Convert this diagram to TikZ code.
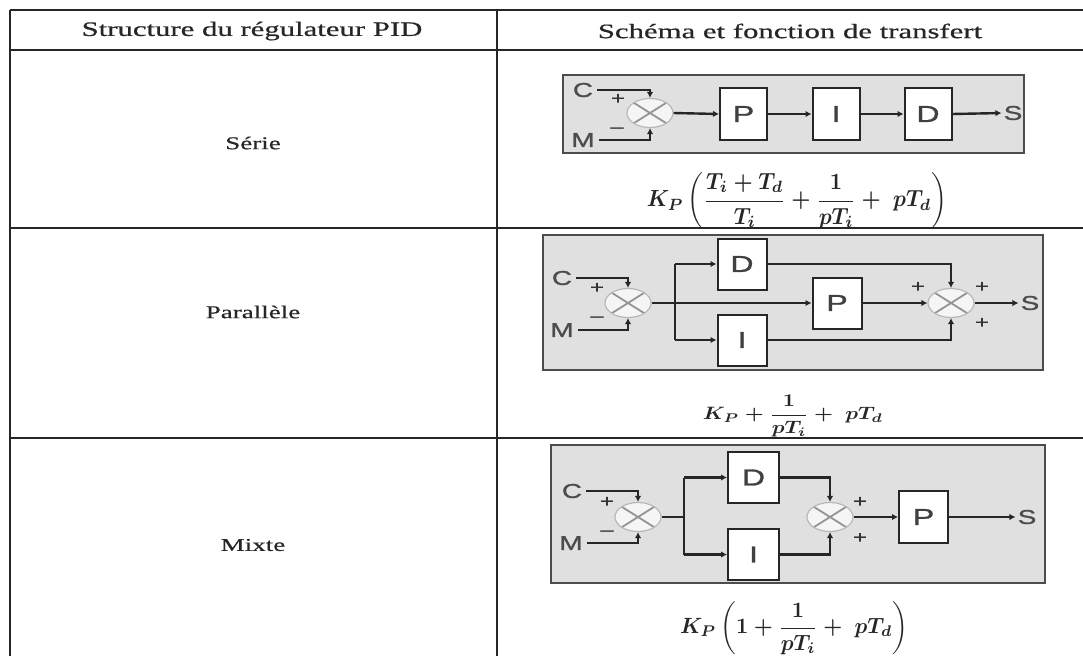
\documentclass[tikz,border=0pt]{standalone}
\usepackage{amsmath}
\usepackage{graphicx}
\usepackage{fontspec}
\setmainfont[FakeStretch=1.5,FakeBold=0.6]{Liberation Serif}
\setsansfont[FakeStretch=1.4,FakeBold=1.2]{Liberation Sans}
\usetikzlibrary{arrows.meta,shapes.geometric}
\tikzset{
 tbl/.style={line width=2.4pt, draw=black!85},
 panel/.style={fill=black!12, draw=black!70, line width=2pt},
 blk/.style={draw=black!85, fill=white, line width=2pt, inner sep=0pt, minimum width=49pt, minimum height=51pt, font=\sffamily\fontsize{23}{23}\selectfont, text=black!75},
 sumj/.style={ellipse, minimum width=46pt, minimum height=29pt, inner sep=0pt, fill=white!96!black, draw=black!28, line width=1.2pt,
   path picture={\draw[black!42,line width=1.8pt] (path picture bounding box.north west) -- (path picture bounding box.south east) (path picture bounding box.north east) -- (path picture bounding box.south west);}},
 wire/.style={line width=2.4pt, draw=black!85},
 arr/.style={wire, -{Latex[length=6pt,width=6.5pt]}},
 io/.style={font=\sffamily\fontsize{20}{20}\selectfont, text=black!70, inner sep=0pt},
 sgn/.style={font=\sffamily\fontsize{17}{17}\selectfont, text=black!80, inner sep=0pt},
 lab/.style={font=\fontsize{18}{18}\selectfont, text=black!85, inner sep=0pt},
 hdr/.style={font=\fontsize{20.5}{21}\selectfont, text=black!85, inner sep=0pt},
 frm/.style={inner sep=0pt, text=black!85},
}
\begin{document}
\begin{tikzpicture}[x=1pt,y=-1pt]
\useasboundingbox (0,0) rectangle (1083,656);
% table
\draw[tbl] (10,10) -- (1083,10);
\draw[tbl] (10,50) -- (1083,50);
\draw[tbl] (10,228) -- (1083,228);
\draw[tbl] (10,438) -- (1083,438);
\draw[tbl] (10,10) -- (10,656);
\draw[tbl] (497,10) -- (497,656);
\node[hdr] (h1) at (252,31) {Structure du régulateur PID};
\node[hdr] (h2) at (790,31) {Schéma et fonction de transfert};
\node[lab] (l1) at (253,143) {Série};
\node[lab] (l2) at (253,312) {Parallèle};
\node[lab] (l3) at (253,545) {Mixte};
% ---------- Serie
\draw[panel] (563,75) rectangle (1024,153);
\node[io] (c1) at (583,90) {C};
\node[io] (m1) at (583,140) {M};
\node[sumj] (s1) at (650,113) {};
\node[sgn] (pl1) at (618,99) {+};
\node[sgn] (mi1) at (617,130) {–};
\node[blk, minimum width=47pt, minimum height=52pt] (p1) at (743.5,114) {P};
\node[blk, minimum width=47pt, minimum height=52pt] (i1) at (836,114) {I};
\node[blk, minimum width=47pt, minimum height=52pt] (d1) at (928,114) {D};
\node[io] (o1) at (1013,113) {S};
\draw[arr] ([xshift=4pt]c1.east) -| (s1.north);
\draw[arr] ([xshift=4pt]m1.east) -| (s1.south);
\draw[arr] (s1.east) -- (p1.west);
\draw[arr] (p1.east) -- (i1.west);
\draw[arr] (i1.east) -- (d1.west);
\draw[arr, shorten >=2pt] (d1.east) -- (o1.west);
\node[frm] (f1) at (797,201) {\resizebox*{300pt}{56pt}{\boldmath$\displaystyle K_{P}\left(\frac{T_i+T_d}{T_i}+\frac{1}{pT_i}+\;pT_d\right)$}};
% ---------- Parallele
\draw[panel] (543,235) rectangle (1043,370);
\node[io] (c2) at (562,278) {C};
\node[io] (m2) at (562,330) {M};
\node[sumj] (s2a) at (628,303) {};
\node[sgn] (pl2) at (597,288) {+};
\node[sgn] (mi2) at (597,319) {–};
\coordinate (j2) at (675,303);
\node[blk] (d2) at (742,264) {D};
\node[blk] (i2) at (742,340) {I};
\node[blk] (p2) at (837,303) {P};
\node[sumj] (s2b) at (951,303) {};
\node[sgn] (pa2) at (918,287) {+};
\node[sgn] (pb2) at (982,287) {+};
\node[sgn] (pc2) at (982,323) {+};
\node[io] (o2) at (1030,303) {S};
\draw[arr] ([xshift=4pt]c2.east) -| (s2a.north);
\draw[arr] ([xshift=4pt]m2.east) -| (s2a.south);
\draw[wire] (s2a.east) -- (j2);
\draw[wire] (j2 |- d2.west) -- (j2 |- i2.west);
\draw[arr] (j2 |- d2.west) -- (d2.west);
\draw[arr] (j2) -- (p2.west);
\draw[arr] (j2 |- i2.west) -- (i2.west);
\draw[arr] (d2.east) -| (s2b.north);
\draw[arr] (p2.east) -- (s2b.west);
\draw[arr] (i2.east) -| (s2b.south);
\draw[arr, shorten >=2pt] (s2b.east) -- (o2.west);
\node[frm] (f2) at (793,416) {\resizebox*{180pt}{42pt}{\boldmath$\displaystyle K_{P}+\frac{1}{pT_i}+\;pT_d$}};
% ---------- Mixte
\draw[panel] (551,445) rectangle (1045,583);
\node[io] (c3) at (572,491) {C};
\node[io] (m3) at (571,543) {M};
\node[sumj] (s3a) at (638,517) {};
\node[sgn] (pl3) at (607,502) {+};
\node[sgn] (mi3) at (607,533) {–};
\coordinate (j3) at (684,517);
\node[blk, minimum width=51pt] (d3) at (753.5,477.5) {D};
\node[blk, minimum width=51pt] (i3) at (753.5,554.5) {I};
\node[sumj] (s3b) at (830,517) {};
\node[sgn] (pa3) at (860,502) {+};
\node[sgn] (pb3) at (860,538) {+};
\node[blk, minimum height=52pt] (p3) at (923.5,517) {P};
\node[io] (o3) at (1027,517) {S};
\draw[arr] ([xshift=4pt]c3.east) -| (s3a.north);
\draw[arr] ([xshift=4pt]m3.east) -| (s3a.south);
\draw[wire] (s3a.east) -- (j3);
\draw[wire] (j3 |- d3.west) -- (j3 |- i3.west);
\draw[arr] (j3 |- d3.west) -- (d3.west);
\draw[arr] (j3 |- i3.west) -- (i3.west);
\draw[arr] (d3.east) -| (s3b.north);
\draw[arr] (i3.east) -| (s3b.south);
\draw[arr] (s3b.east) -- (p3.west);
\draw[arr, shorten >=2pt] (p3.east) -- (o3.west);
\node[frm] (f3) at (794,628) {\resizebox*{228pt}{53pt}{\boldmath$\displaystyle K_{P}\left(1+\frac{1}{pT_i}+\;pT_d\right)$}};
\end{tikzpicture}
\end{document}
